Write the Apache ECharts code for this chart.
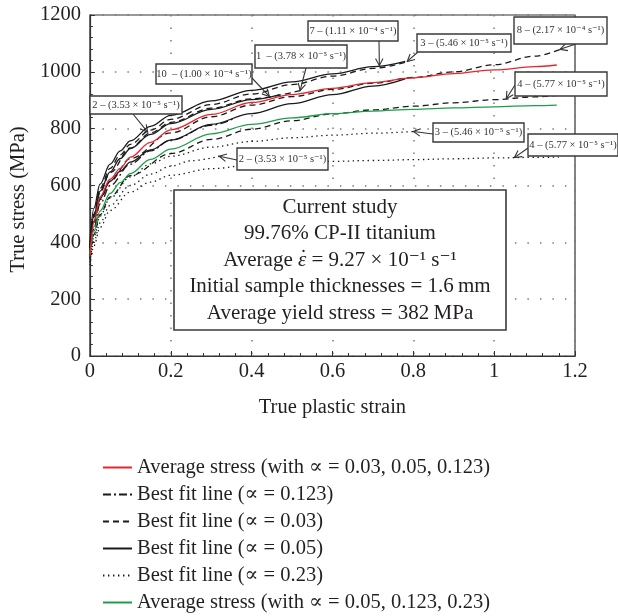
<!DOCTYPE html>
<html>
<head>
<meta charset="utf-8">
<script src="https://cdn.jsdelivr.net/npm/echarts@6/dist/echarts.min.js"></script>
<style>
  html, body { margin: 0; padding: 0; background: #fff; }
  #chart { width: 618px; height: 616px; }
</style>
</head>
<body>
<div id="chart"></div>
<script>
// True stress vs. true plastic strain, CP-II titanium.
// Each curve is a list of [strain, stress (MPa)] pairs.

// Average stress curves
const avgStressA = [[0,350],[0.01,470],[0.025,560],[0.05,622],[0.075,660],[0.1,700],[0.15,752],[0.2,796],[0.3,850],[0.4,892],[0.5,920],[0.6,942],[0.7,962],[0.8,979],[0.9,994],[1.0,1007],[1.1,1018],[1.155,1024]];
const avgStressB = [[0,360],[0.01,440],[0.025,510],[0.05,572],[0.075,610],[0.1,642],[0.15,692],[0.2,728],[0.3,782],[0.4,815],[0.5,838],[0.6,853],[0.7,862],[0.8,868],[0.9,873],[1.0,877],[1.1,881],[1.155,883]];

// Best fit, alpha = 0.05 (solid)
const fitSolid7 = [[0,400],[0.01,520],[0.025,605],[0.05,675],[0.075,722],[0.1,757],[0.15,808],[0.2,847],[0.3,898],[0.4,935],[0.5,965],[0.6,993],[0.7,1018],[0.78,1037]];
const fitSolid10 = [[0,385],[0.01,495],[0.025,580],[0.05,648],[0.075,695],[0.1,730],[0.15,780],[0.2,818],[0.3,868],[0.4,902],[0.47,920]];
const fitSolidLow = [[0,375],[0.01,475],[0.025,555],[0.05,615],[0.075,650],[0.1,682],[0.15,725],[0.2,760],[0.3,815],[0.4,853],[0.5,888],[0.6,920],[0.7,950],[0.78,975]];

// Best fit, alpha = 0.03 (dashed)
const fitDashed3 = [[0,385],[0.01,500],[0.025,590],[0.05,660],[0.075,708],[0.1,745],[0.15,795],[0.2,833],[0.3,885],[0.4,922],[0.5,955],[0.6,985],[0.7,1012],[0.79,1038]];
const fitDashed1 = [[0,380],[0.01,490],[0.025,575],[0.05,645],[0.1,732],[0.15,785],[0.2,822],[0.3,872],[0.4,905],[0.52,934]];
const fitDashed8 = [[0,365],[0.01,465],[0.025,550],[0.05,615],[0.1,695],[0.2,785],[0.3,842],[0.4,883],[0.5,913],[0.6,938],[0.7,960],[0.8,980],[0.9,1000],[1.0,1025],[1.1,1055],[1.165,1080]];
const fitDashed4 = [[0,350],[0.01,428],[0.025,497],[0.05,560],[0.1,635],[0.2,712],[0.3,762],[0.4,798],[0.5,828],[0.6,852],[0.7,866],[0.8,879],[0.9,891],[1.0,902],[1.1,912],[1.16,918]];

// Best fit, alpha = 0.123 (dash-dot)
const fitDashDot = [[0,345],[0.01,450],[0.025,535],[0.05,600],[0.1,675],[0.15,722],[0.2,760],[0.3,812],[0.36,838]];

// Best fit, alpha = 0.23 (dotted)
const fitDotted3 = [[0,340],[0.01,420],[0.025,492],[0.05,556],[0.1,630],[0.15,676],[0.2,703],[0.3,735],[0.4,755],[0.5,768],[0.6,777],[0.7,784],[0.8,790]];
const fitDotted2 = [[0,330],[0.01,402],[0.025,468],[0.05,530],[0.1,600],[0.15,640],[0.2,668],[0.25,687],[0.32,703]];
const fitDotted4 = [[0,320],[0.01,388],[0.025,452],[0.05,512],[0.1,577],[0.15,612],[0.2,636],[0.3,659],[0.4,672],[0.5,680],[0.6,685],[0.7,688],[0.8,691],[0.9,694],[1.0,697],[1.1,699],[1.16,700]];

// Axis ticks
const strainTicks = [0, 0.2, 0.4, 0.6, 0.8, 1, 1.2];
const stressTicks = [0, 200, 400, 600, 800, 1000, 1200];

// Legend entries
const legendNames = [
  'Average stress (with \u221D = 0.03, 0.05, 0.123)',
  'Best fit line (\u221D = 0.123)',
  'Best fit line (\u221D = 0.03)',
  'Best fit line (\u221D = 0.05)',
  'Best fit line (\u221D = 0.23)',
  'Average stress (with \u221D = 0.05, 0.123, 0.23)'
];

// Strain-rate callouts: label, curve it points at, strain of the arrow tip
const callouts = [
  { text: '7 \u2013 (1.11 \u00D7 10\u207B\u2074 s\u207B\u00B9)', curve: fitSolid7, at: 0.716 },
  { text: '3 \u2013 (5.46 \u00D7 10\u207B\u2075 s\u207B\u00B9)', curve: fitDashed3, at: 0.785 },
  { text: '8 \u2013 (2.17 \u00D7 10\u207B\u2074 s\u207B\u00B9)', curve: fitDashed8, at: 1.163 },
  { text: '1  \u2013 (3.78 \u00D7 10\u207B\u2075 s\u207B\u00B9)', curve: fitDashed1, at: 0.52 },
  { text: '10  \u2013 (1.00 \u00D7 10\u207B\u2074 s\u207B\u00B9)', curve: fitSolid10, at: 0.444 },
  { text: '2 \u2013 (3.53 \u00D7 10\u207B\u2075 s\u207B\u00B9)', curve: fitDashed3, at: 0.143 },
  { text: '4 \u2013 (5.77 \u00D7 10\u207B\u2075 s\u207B\u00B9)', curve: fitDashed4, at: 1.03 },
  { text: '3 \u2013 (5.46 \u00D7 10\u207B\u2075 s\u207B\u00B9)', curve: fitDotted3, at: 0.8 },
  { text: '2 \u2013 (3.53 \u00D7 10\u207B\u2075 s\u207B\u00B9)', curve: fitDotted2, at: 0.32 },
  { text: '4 \u2013 (5.77 \u00D7 10\u207B\u2075 s\u207B\u00B9)', curve: fitDotted4, at: 1.05 }
];
// Callout box layout in page pixels: [left, top, width, height], and arrow tail
const calloutLayout = [
  { box: [308, 21, 90, 20], tail: [379, 41] },
  { box: [417, 34, 94, 18], tail: [418, 52] },
  { box: [514, 17, 93, 27], tail: [576, 44] },
  { box: [255, 45, 92, 23], tail: [306, 68] },
  { box: [156, 64, 96, 20], tail: [251, 77] },
  { box: [90, 96, 92, 18], tail: [133, 114] },
  { box: [515, 72, 92, 24], tail: [515, 85] },
  { box: [433, 123, 91, 19], tail: [433, 134] },
  { box: [237, 148, 91, 22], tail: [237, 160] },
  { box: [528, 134, 90, 22], tail: [528, 148] }
];

const FONT = '"Liberation Serif", "DejaVu Serif", serif';
const INK = '#231f20';
const RED = '#e5262d';
const GREEN = '#1f9e48';
const BLACK = '#1a1a1a';
const DASH = [6, 4];
const DASHDOT = [8, 3, 2, 3];
const DOT = [1.4, 3.6];
const LABEL_SIZE = 20.5;

function line(name, data, color, type, z) {
  return {
    name: name, type: 'line', data: data, symbol: 'none', smooth: 0.35,
    smoothMonotone: 'x', z: z || 2, silent: true,
    lineStyle: { color: color, width: 1.3, type: type },
    itemStyle: { color: color }
  };
}

const chart = echarts.init(document.getElementById('chart'), null, { renderer: 'canvas' });

const axisCommon = {
  type: 'value',
  axisLine: { show: true, lineStyle: { color: '#333', width: 1.2 } },
  axisTick: { show: true, inside: true, length: 5, lineStyle: { color: '#333' } },
  minorTick: { show: true, splitNumber: 5, length: 3, lineStyle: { color: '#333' } },
  splitLine: { show: true, lineStyle: { color: '#7a7a7a', width: 1.5, type: [1.5, 11] } },
  nameTextStyle: { fontFamily: FONT, fontSize: LABEL_SIZE, color: INK },
  axisLabel: { fontFamily: FONT, fontSize: LABEL_SIZE, color: INK }
};

chart.setOption({
  animation: false,
  backgroundColor: '#fff',
  grid: { left: 89, top: 15, width: 486, height: 341, show: true, borderColor: '#333', borderWidth: 1.2, containLabel: false },
  xAxis: Object.assign({}, axisCommon, {
    min: strainTicks[0], max: strainTicks[strainTicks.length - 1], interval: 0.2,
    name: 'True plastic strain', nameLocation: 'middle', nameGap: 41,
    axisLabel: Object.assign({}, axisCommon.axisLabel, { margin: 5, formatter: v => String(+v.toFixed(1)) })
  }),
  yAxis: Object.assign({}, axisCommon, {
    min: stressTicks[0], max: stressTicks[stressTicks.length - 1], interval: 200,
    name: 'True stress (MPa)', nameLocation: 'middle', nameGap: 52,
    nameTextStyle: Object.assign({}, axisCommon.nameTextStyle, { padding: [0, 28, 0, 0] }),
    axisLabel: Object.assign({}, axisCommon.axisLabel, { margin: 9, formatter: v => String(v) })
  }),
  legend: {
    data: legendNames, orient: 'vertical', left: 102, top: 457,
    itemWidth: 29, itemHeight: 14, itemGap: 6, itemTextGap: 6, padding: 0,
    selectedMode: false,
    itemStyle: { opacity: 0 },
    textStyle: { fontFamily: FONT, fontSize: LABEL_SIZE, color: INK, lineHeight: 21 }
  },
  series: [
    line(legendNames[0], avgStressA, RED, 'solid', 6),
    line(legendNames[1], fitDashDot, BLACK, DASHDOT, 3),
    line(legendNames[2], fitDashed3, BLACK, DASH, 3),
    line(legendNames[3], fitSolid7, BLACK, 'solid', 4),
    line(legendNames[4], fitDotted3, BLACK, DOT, 2),
    line(legendNames[5], avgStressB, GREEN, 'solid', 5),
    line(legendNames[3], fitSolid10, BLACK, 'solid', 4),
    line(legendNames[3], fitSolidLow, BLACK, 'solid', 4),
    line(legendNames[2], fitDashed1, BLACK, DASH, 3),
    line(legendNames[2], fitDashed8, BLACK, DASH, 3),
    line(legendNames[2], fitDashed4, BLACK, DASH, 3),
    line(legendNames[4], fitDotted2, BLACK, DOT, 2),
    line(legendNames[4], fitDotted4, BLACK, DOT, 2)
  ]
});

// Stress on a curve at a given strain (linear between listed points)
function stressAt(curve, x) {
  for (let i = 1; i < curve.length; i++) {
    if (x <= curve[i][0]) {
      const a = curve[i - 1], b = curve[i];
      return a[1] + (b[1] - a[1]) * (x - a[0]) / (b[0] - a[0]);
    }
  }
  return curve[curve.length - 1][1];
}

function arrowShapes(tail, tip, color) {
  const dx = tip[0] - tail[0], dy = tip[1] - tail[1];
  const len = Math.hypot(dx, dy) || 1;
  const bx = -dx / len, by = -dy / len;
  const h = 8, ang = Math.PI / 6.5, c = Math.cos(ang), s = Math.sin(ang);
  const p1 = [tip[0] + h * (bx * c - by * s), tip[1] + h * (bx * s + by * c)];
  const p2 = [tip[0] + h * (bx * c + by * s), tip[1] + h * (-bx * s + by * c)];
  return [
    { type: 'line', z: 20, silent: true, shape: { x1: tail[0], y1: tail[1], x2: tip[0], y2: tip[1] }, style: { stroke: color, lineWidth: 1.1 } },
    { type: 'polyline', z: 20, silent: true, shape: { points: [p1, tip, p2] }, style: { stroke: color, fill: null, lineWidth: 1.1 } }
  ];
}

const graphics = [];

// Callout boxes with arrows
callouts.forEach((c, i) => {
  const lay = calloutLayout[i];
  const tip = chart.convertToPixel({ gridIndex: 0 }, [c.at, stressAt(c.curve, c.at)]);
  graphics.push.apply(graphics, arrowShapes(lay.tail, tip, '#333'));
  const [bx, by, bw, bh] = lay.box;
  graphics.push({
    type: 'rect', z: 21, silent: true,
    shape: { x: bx, y: by, width: bw, height: bh },
    style: { fill: '#fff', stroke: '#3a3a3a', lineWidth: 1.4 }
  });
  graphics.push({
    type: 'text', z: 22, silent: true,
    style: {
      text: c.text, x: bx + bw / 2, y: by + bh / 2,
      align: 'center', verticalAlign: 'middle', textAlign: 'center', textVerticalAlign: 'middle',
      font: '10.5px ' + FONT, fill: '#333'
    }
  });
});

// Study summary box
const INFO_SIZE = 21;
const info = { x: 174, y: 190, w: 332, h: 140, cx: 340, firstLine: 207, step: 26.5 };
graphics.push({
  type: 'rect', z: 21, silent: true,
  shape: { x: info.x, y: info.y, width: info.w, height: info.h },
  style: { fill: '#fff', stroke: '#3a3a3a', lineWidth: 1.6 }
});
function infoText(t, x, y, extra) {
  return {
    type: 'text', z: 22, silent: true,
    style: Object.assign({
      text: t, x: x, y: y,
      align: 'center', verticalAlign: 'middle', textAlign: 'center', textVerticalAlign: 'middle',
      fontFamily: FONT, fontSize: INFO_SIZE, fill: INK
    }, extra || {})
  };
}
const infoLines = [
  'Current study',
  '99.76% CP-II titanium',
  null,
  'Initial sample thicknesses = 1.6\u2009mm',
  'Average yield stress = 382\u2009MPa'
];
infoLines.forEach((t, i) => {
  if (t) graphics.push(infoText(t, info.cx, info.firstLine + i * info.step));
});

// Strain-rate line: upright text, italic epsilon with a dot accent above it
(function () {
  const y = info.firstLine + 2 * info.step;
  const ctx = document.createElement('canvas').getContext('2d');
  const upright = INFO_SIZE + 'px ' + FONT;
  const italic = 'italic ' + INFO_SIZE + 'px ' + FONT;
  const pre = 'Average ', eps = '\u03B5', post = ' = 9.27 \u00D7 10\u207B\u00B9 s\u207B\u00B9';
  ctx.font = upright; const wPre = ctx.measureText(pre).width; const wPost = ctx.measureText(post).width;
  ctx.font = italic; const wEps = ctx.measureText(eps).width;
  const left = info.cx - (wPre + wEps + wPost) / 2;
  graphics.push(infoText(pre, left, y, { align: 'left', textAlign: 'left' }));
  graphics.push(infoText(eps, left + wPre, y, { align: 'left', textAlign: 'left', fontStyle: 'italic' }));
  graphics.push(infoText(post, left + wPre + wEps, y, { align: 'left', textAlign: 'left' }));
  graphics.push(infoText('\u02D9', left + wPre + wEps / 2 + 1.5, y - 1.5, {}));
})();

chart.setOption({ graphic: graphics });
</script>
</body>
</html>
